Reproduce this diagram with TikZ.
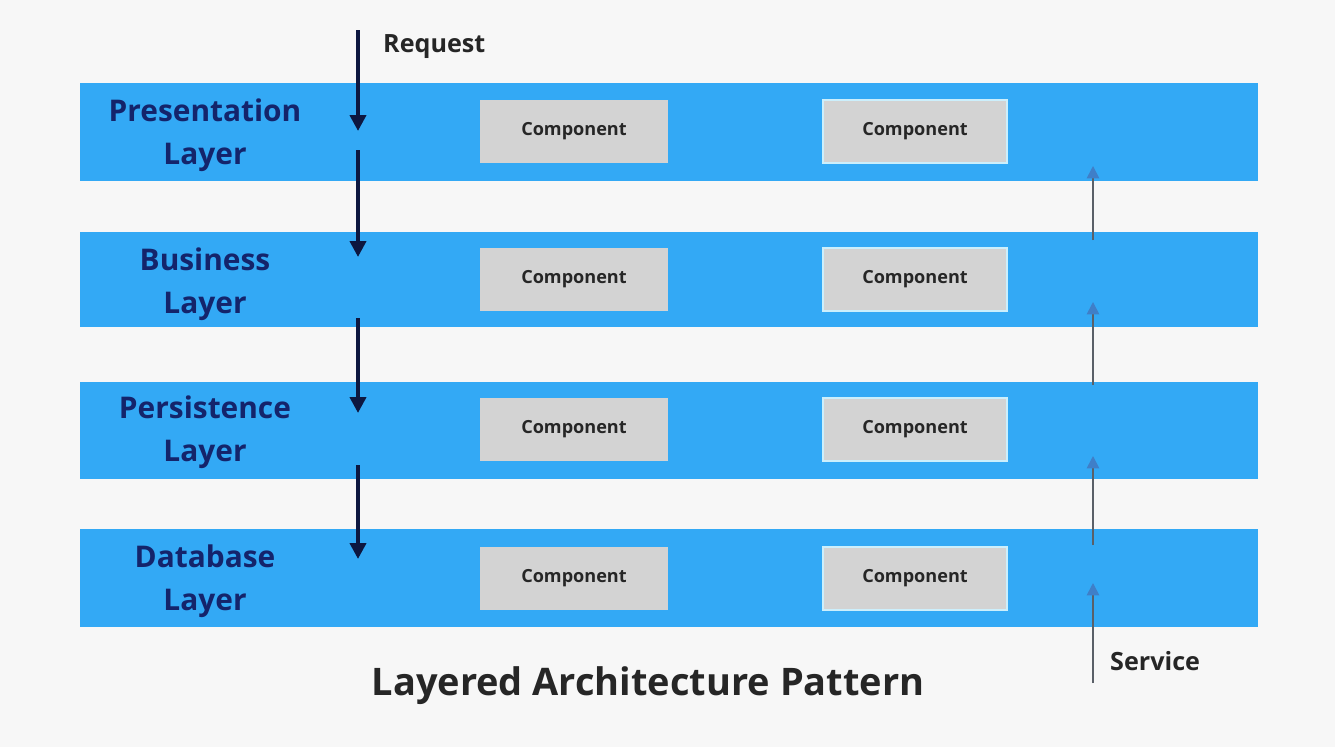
\documentclass[tikz,border=0pt]{standalone}
\usepackage{fontspec}
\setmainfont{Open Sans}
\usetikzlibrary{arrows.meta}
\definecolor{bgc}{HTML}{F7F7F7}
\definecolor{bandc}{HTML}{33A9F5}
\definecolor{compc}{HTML}{D3D3D3}
\definecolor{navy}{HTML}{14246B}
\definecolor{reqc}{HTML}{0D1740}
\definecolor{svcline}{HTML}{5A6068}
\definecolor{svchead}{HTML}{3F7FC8}
\tikzset{
  band/.style={fill=bandc, draw=none},
  compbox/.style={fill=compc, draw=none, minimum width=188*0.02cm, minimum height=63*0.02cm,
    inner sep=0pt, font=\fontsize{10.3}{12}\selectfont\bfseries, text=black!85},
  compboxr/.style={compbox, draw=white!80!cyan, line width=1pt, minimum width=184*0.02cm},
  layerlbl/.style={align=center, text=navy, font=\fontsize{17}{24.5}\selectfont\bfseries},
  reqarrow/.style={draw=reqc, line width=2.2pt, -{Triangle[length=9pt,width=9pt]}},
  svcarrow/.style={draw=svcline, line width=1pt, -{Triangle[length=7pt,width=7pt,color=svchead]}},
  sidelbl/.style={font=\fontsize{14.3}{16}\selectfont\bfseries, text=black!85, anchor=west},
}
\begin{document}
\begin{tikzpicture}[x=0.02cm,y=-0.02cm]
  % canvas
  \fill[bgc] (0,0) rectangle (1335,747);
  \useasboundingbox (0,0) rectangle (1335,747);

  % layer bands
  \path[band] (80,83) rectangle (1258,181);
  \path[band] (80,232) rectangle (1258,327);
  \path[band] (80,382) rectangle (1258,479);
  \path[band] (80,529) rectangle (1258,627);

  % layer names
  \node[layerlbl] (lp) at (205,135) {Presentation\\Layer};
  \node[layerlbl] (lb) at (205,284) {Business\\Layer};
  \node[layerlbl] (lr) at (205,432) {Persistence\\Layer};
  \node[layerlbl] (ld) at (205,581) {Database\\Layer};

  % components
  \node[compbox]  (c1a) at (574,131.5) {Component};
  \node[compboxr] (c1b) at (915,131.5) {Component};
  \node[compbox]  (c2a) at (574,279.5) {Component};
  \node[compboxr] (c2b) at (915,279.5) {Component};
  \node[compbox]  (c3a) at (574,429.5) {Component};
  \node[compboxr] (c3b) at (915,429.5) {Component};
  \node[compbox]  (c4a) at (574,578.5) {Component};
  \node[compboxr] (c4b) at (915,578.5) {Component};

  % request path (downwards)
  \coordinate (r0) at (358,30);
  \coordinate (r1) at (358,131);
  \coordinate (r2s) at (358,150);
  \coordinate (r2) at (358,257);
  \coordinate (r3s) at (358,318);
  \coordinate (r3) at (358,413);
  \coordinate (r4s) at (358,465);
  \coordinate (r4) at (358,559);
  \draw[reqarrow] (r0) -- (r1);
  \draw[reqarrow] (r2s) -- (r2);
  \draw[reqarrow] (r3s) -- (r3);
  \draw[reqarrow] (r4s) -- (r4);
  \node[sidelbl] (req) at (377,47) {Request};

  % service path (upwards)
  \coordinate (s0) at (1093,683);
  \coordinate (s1) at (1093,583);
  \coordinate (s2s) at (1093,545);
  \coordinate (s2) at (1093,456);
  \coordinate (s3s) at (1093,385);
  \coordinate (s3) at (1093,302);
  \coordinate (s4s) at (1093,240);
  \coordinate (s4) at (1093,166);
  \draw[svcarrow] (s0) -- (s1);
  \draw[svcarrow] (s2s) -- (s2);
  \draw[svcarrow] (s3s) -- (s3);
  \draw[svcarrow] (s4s) -- (s4);
  \node[sidelbl] (svc) at (1104,661) {Service};

  % caption
  \node[font=\fontsize{21.6}{25}\selectfont\bfseries, text=black!85] (title) at (648,686) {Layered Architecture Pattern};
\end{tikzpicture}
\end{document}
